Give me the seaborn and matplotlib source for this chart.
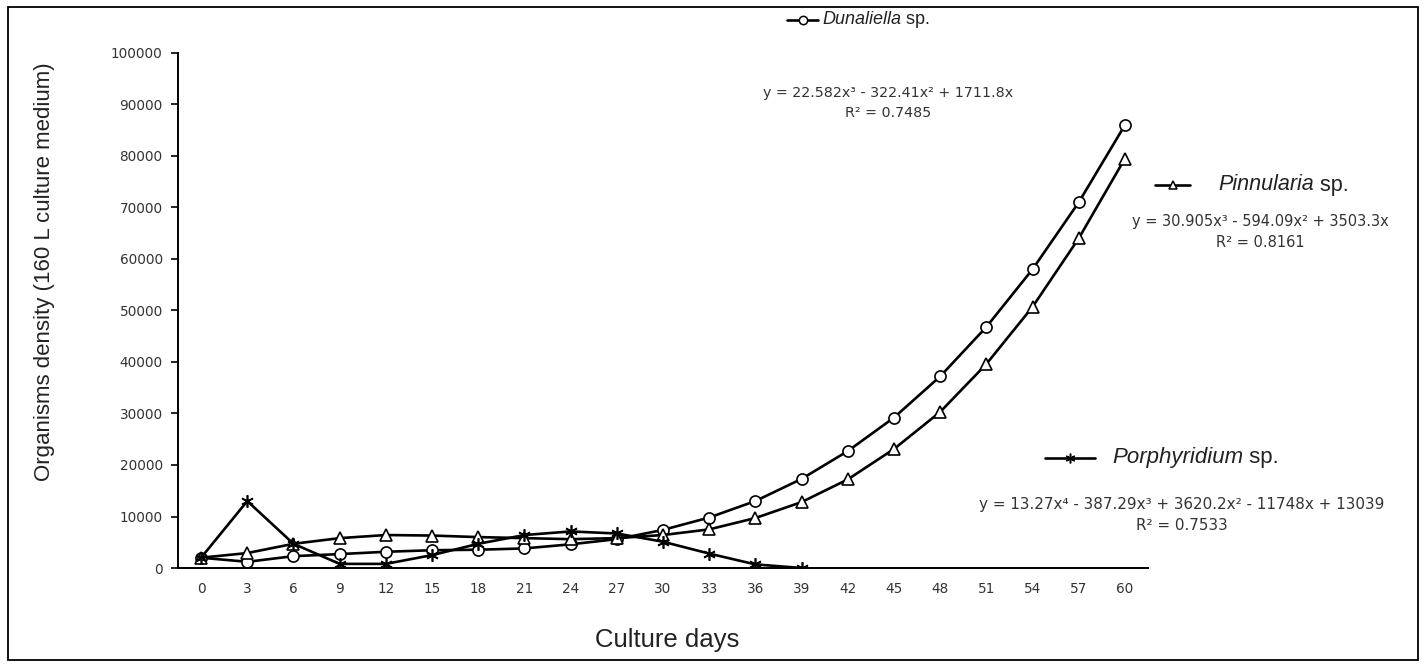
import numpy as np
import pandas as pd
import matplotlib
matplotlib.use("Agg")
import matplotlib.pyplot as plt
import seaborn as sns
from matplotlib.lines import Line2D
from matplotlib.patches import Rectangle

# data
days = list(range(0, 61, 3))
dunaliella = [2000, 1200, 2300, 2700, 3150, 3450, 3550, 3800, 4600, 5600, 7400,
              9800, 13000, 17300, 22700, 29200, 37200, 46800, 58000, 71000, 86000]
pinnularia = [2000, 2900, 4700, 5800, 6400, 6300, 6000, 5800, 5600, 5800, 6400,
              7500, 9700, 12800, 17200, 23100, 30300, 39600, 50700, 64000, 79500]
porph_days = list(range(0, 40, 3))
porphyridium = [2000, 13000, 4700, 800, 800, 2500, 4700, 6400, 7100, 6700, 5100,
                2800, 700, 0]

sns.set_theme(style="white")
narrow = ["Liberation Sans Narrow", "Liberation Sans", "DejaVu Sans"]
plt.rcParams["font.family"] = ["DejaVu Sans"]

W, H = 1423, 667
fig = plt.figure(figsize=(W / 100, H / 100), dpi=100)
ax = fig.add_axes([178 / W, 1 - 568 / H, (1148 - 178) / W, (568 - 53) / H])


def fx(x):
    return x / W


def fy(y):
    return 1 - y / H


lw = 1.9
sty = dict(color="black", linewidth=lw, markeredgecolor="black", markeredgewidth=1.2)
sns.lineplot(x=days, y=dunaliella, ax=ax, marker="o", markersize=8,
             markerfacecolor="white", **sty)
sns.lineplot(x=days, y=pinnularia, ax=ax, marker="^", markersize=8,
             markerfacecolor="white", **sty)
sns.lineplot(x=porph_days, y=porphyridium, ax=ax, marker=(6, 2, 0), markersize=9,
             **sty)

ax.set_xlim(-1.5, 61.5)
ax.set_ylim(0, 100000)
ax.set_xticks(days)
ax.set_xticklabels([str(d) for d in days])
ax.set_xticks(np.arange(-1.5, 62, 3), minor=True)
ax.set_yticks(range(0, 100001, 10000))
ax.set_yticklabels([str(v) for v in range(0, 100001, 10000)])
ax.tick_params(axis="x", which="major", length=0, pad=10, labelsize=9.8, labelcolor="#333333")
ax.tick_params(axis="x", which="minor", length=9, width=1.2, direction="inout", color="black")
ax.tick_params(axis="y", length=5, width=1.2, direction="out", color="black", left=True,
               pad=6, labelsize=9.8, labelcolor="#333333")
for s in ["top", "right"]:
    ax.spines[s].set_visible(False)
for s in ["left", "bottom"]:
    ax.spines[s].set_color("black")
    ax.spines[s].set_linewidth(1.4)
ax.grid(False)

fig.text(fx(45), fy(272), "Organisms density (160 L culture medium)", rotation=90,
         ha="center", va="center", fontsize=16, family=narrow, color="#222222")
fig.text(fx(667), fy(640), "Culture days", ha="center", va="center", fontsize=18.5,
         family=narrow, color="#222222")


def legend_entry(x0, x1, y, marker, mfc, ms, tx, name, fs):
    fig.add_artist(Line2D([fx(x0), fx(x1)], [fy(y), fy(y)], transform=fig.transFigure,
                          color="black", linewidth=lw))
    fig.add_artist(Line2D([fx((x0 + x1) / 2)], [fy(y)], transform=fig.transFigure,
                          marker=marker, markersize=ms, markerfacecolor=mfc,
                          markeredgecolor="black", markeredgewidth=1.1, linestyle="none"))
    t = fig.text(fx(tx), fy(y), name, ha="left", va="center", fontsize=fs,
                 family=narrow, style="italic", color="#222222")
    ax.annotate(" sp.", xy=(1, 0.5), xycoords=t, ha="left", va="center", fontsize=fs,
                family=narrow, color="#222222", annotation_clip=False)


legend_entry(787, 818, 20, "o", "white", 6, 822, "Dunaliella", 13)
legend_entry(1155, 1190, 185, "^", "white", 6, 1218, "Pinnularia", 15.5)
legend_entry(1045, 1095, 458, (6, 2, 0), "black", 7, 1112, "Porphyridium", 16)

eqs = [
    (888, 93, 113, "y = 22.582x³ - 322.41x² + 1711.8x", "R² = 0.7485", 10.3),
    (1260, 222, 242, "y = 30.905x³ - 594.09x² + 3503.3x", "R² = 0.8161", 10.5),
    (1182, 505, 526, "y = 13.27x⁴ - 387.29x³ + 3620.2x² - 11748x + 13039", "R² = 0.7533", 10.9),
]
for cx, y1, y2, e, r, fs in eqs:
    fig.text(fx(cx), fy(y1), e, ha="center", va="center", fontsize=fs, color="#333333")
    fig.text(fx(cx), fy(y2), r, ha="center", va="center", fontsize=fs, color="#333333")

fig.add_artist(Rectangle((fx(8), fy(660)), fx(1418) - fx(8), fy(7) - fy(660),
                         transform=fig.transFigure, fill=False, edgecolor="black",
                         linewidth=1.3))

fig.savefig("out.png", dpi=100, facecolor="white")
